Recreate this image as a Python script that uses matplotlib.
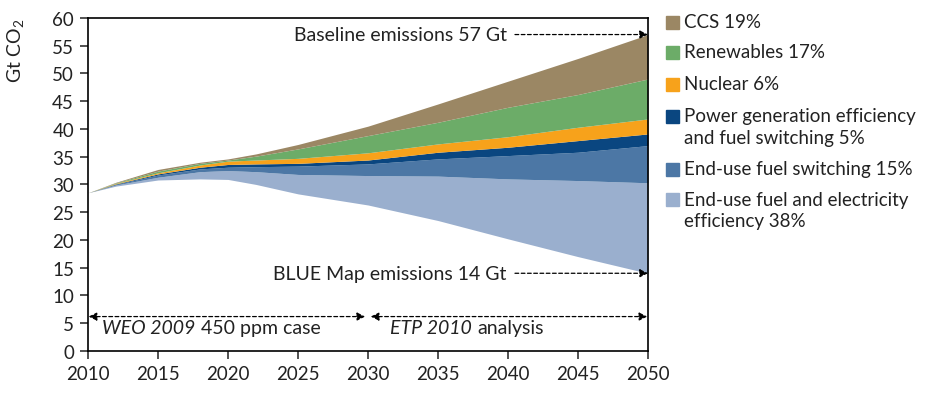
import numpy as np
import matplotlib
matplotlib.use("Agg")
from matplotlib import pyplot as plt
from matplotlib.patches import Rectangle

plt.rcParams['font.family'] = ['Lato', 'DejaVu Sans']
plt.rcParams['mathtext.fontset'] = 'custom'
plt.rcParams['mathtext.rm'] = 'Lato'

# data (Gt CO2)
years = [2010, 2012, 2015, 2018, 2020, 2022, 2025, 2030, 2035, 2040, 2045, 2050]
blue_map = [28.5, 29.7, 30.8, 31.0, 30.9, 30.0, 28.3, 26.3, 23.5, 20.2, 17.0, 14.0]
end_use_eff = [0, 0.2, 0.5, 1.3, 1.6, 2.3, 3.5, 5.3, 8.0, 10.8, 13.7, 16.3]
end_use_switch = [0, 0.1, 0.4, 0.5, 0.6, 0.9, 1.5, 2.1, 3.1, 4.2, 5.1, 6.7]
power_gen = [0, 0.1, 0.2, 0.3, 0.5, 0.5, 0.5, 0.7, 1.2, 1.5, 2.1, 2.1]
nuclear = [0, 0.1, 0.2, 0.4, 0.6, 0.7, 0.9, 1.3, 1.5, 1.9, 2.4, 2.7]
renewables = [0, 0.1, 0.3, 0.3, 0.2, 0.7, 1.7, 3.1, 3.9, 5.3, 5.9, 7.2]
ccs = [0, 0.1, 0.3, 0.2, 0.2, 0.4, 0.8, 1.7, 3.3, 4.7, 6.5, 8.0]

labels = ["End-use fuel and electricity\nefficiency 38%", "End-use fuel switching 15%",
          "Power generation efficiency\nand fuel switching 5%", "Nuclear 6%",
          "Renewables 17%", "CCS 19%"]
colors = ["#9aafce", "#4c77a5", "#0a4680", "#f7a21b", "#6cac68", "#9b8764"]

x_ticks = list(range(2010, 2051, 5))
y_ticks = list(range(0, 61, 5))

txt = '#222222'
fig = plt.figure(figsize=(9.31, 4.02), dpi=100)
ax = fig.add_axes([0.0945, 0.1244, 0.6015, 0.8286])

layers = [end_use_eff, end_use_switch, power_gen, nuclear, renewables, ccs]
lower = np.array(blue_map, dtype=float)
for vals, col in zip(layers, colors):
    upper = lower + np.array(vals)
    ax.fill_between(years, lower, upper, color=col, linewidth=0)
    lower = upper
baseline = lower

ax.set_xlim(2010, 2050)
ax.set_ylim(0, 60)
ax.set_xticks(x_ticks)
ax.set_yticks(y_ticks)
ax.tick_params(direction='out', length=6, width=1.1, labelsize=13.5, colors=txt, pad=4)
for s in ax.spines.values():
    s.set_linewidth(1.2)
ax.set_ylabel("Gt CO$_2$", fontsize=14, color=txt)
ax.yaxis.set_label_coords(-0.108, 0.905)

arr = dict(arrowstyle='-|>', linestyle=(0, (3, 2)), color='black', lw=0.9,
           shrinkA=0, shrinkB=0, mutation_scale=12)
ax.annotate("", xy=(2050, baseline[-1]), xytext=(2040.5, baseline[-1]), arrowprops=arr)
ax.text(2039.9, baseline[-1], "Baseline emissions 57 Gt", fontsize=14, ha='right', va='center', color=txt)
ax.annotate("", xy=(2050, blue_map[-1]), xytext=(2040.5, blue_map[-1]), arrowprops=arr)
ax.text(2039.9, blue_map[-1], "BLUE Map emissions 14 Gt", fontsize=14, ha='right', va='center', color=txt)

arr2 = dict(arrowstyle='<|-|>', linestyle=(0, (3, 2)), color='black', lw=0.9,
            shrinkA=0, shrinkB=0, mutation_scale=12)
ax.annotate("", xy=(2029.8, 6.2), xytext=(2010.05, 6.2), arrowprops=arr2)
ax.annotate("", xy=(2049.95, 6.2), xytext=(2030.2, 6.2), arrowprops=arr2)
ax.text(2017.64, 4.3, "WEO 2009", fontsize=14, style='italic', ha='right', va='center', color=txt)
ax.text(2018.07, 4.3, "450 ppm case", fontsize=14, ha='left', va='center', color=txt)
ax.text(2037.43, 4.3, "ETP 2010", fontsize=14, style='italic', ha='right', va='center', color=txt)
ax.text(2037.79, 4.3, "analysis", fontsize=14, ha='left', va='center', color=txt)

# legend, top to bottom: (series index, first line y px, text centre y px)
rows = [(5, 23, 23), (4, 53, 53), (3, 85, 85), (2, 117, 127.5), (1, 170, 170), (0, 200, 211)]
for idx, ypix, cpix in rows:
    fy = 1 - ypix / 402
    fig.patches.append(Rectangle((666 / 931, fy - 6.5 / 402), 13 / 931, 13 / 402,
                                 transform=fig.transFigure, color=colors[idx], figure=fig))
    fig.text(684 / 931, 1 - cpix / 402, labels[idx], fontsize=13.5, va='center',
             ha='left', color=txt, linespacing=1.3)

fig.savefig("out.png", dpi=100)
